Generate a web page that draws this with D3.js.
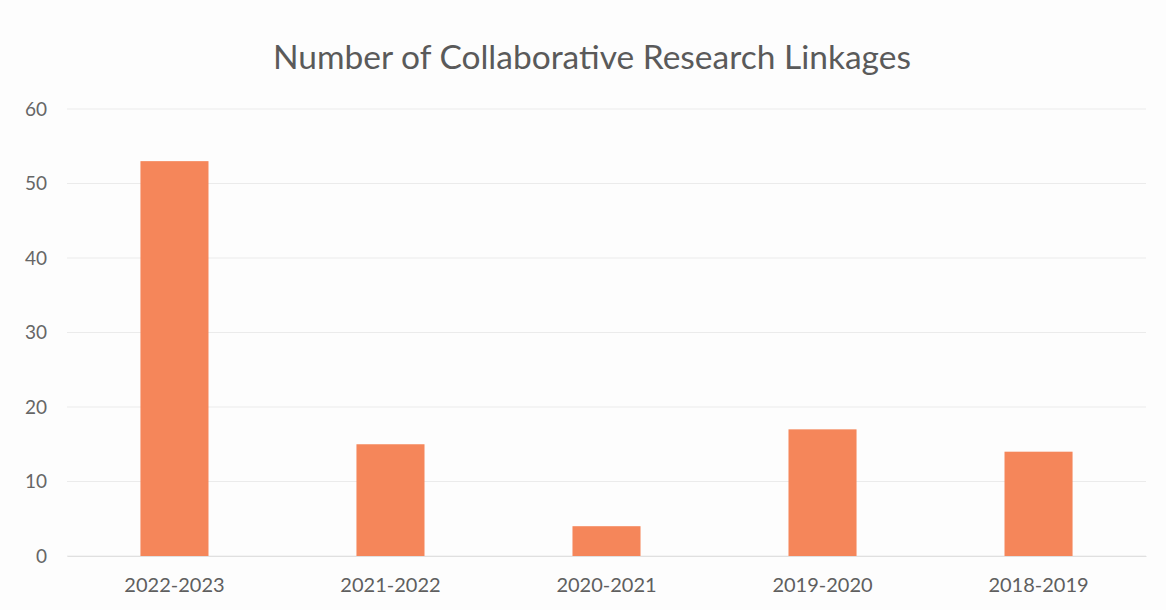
<!DOCTYPE html>
<html><head><meta charset="utf-8">
<script src="https://cdn.jsdelivr.net/npm/d3@7"></script>
<style>body{margin:0;background:#fdfdfd;}svg{display:block;}</style>
</head><body>
<svg id="chart" width="1166" height="610"></svg>
<script>
const categories = ["2022-2023","2021-2022","2020-2021","2019-2020","2018-2019"];
const values = [53, 15, 4, 17, 14];
const yTicks = [0, 10, 20, 30, 40, 50, 60];
const title = "Number of Collaborative Research Linkages";

const svg = d3.select("#chart");
const W = 1166, H = 610;
const m = {left: 67, right: 20, top: 109, bottom: 54};
const x = d3.scaleBand().domain(categories).range([m.left, W - m.right]).paddingInner(0.685).paddingOuter(0.34);
const y = d3.scaleLinear().domain([0, 60]).range([H - m.bottom, m.top]);
const font = "Lato, 'Open Sans', sans-serif";

svg.append("rect").attr("width", W).attr("height", H).attr("fill", "#fdfdfd");

// gridlines
svg.append("g").selectAll("line").data(yTicks).join("line")
  .attr("x1", m.left).attr("x2", W - m.right)
  .attr("y1", d => y(d)).attr("y2", d => y(d))
  .attr("stroke", "#ebebeb").attr("stroke-width", 1);

// y axis
const ya = svg.append("g").attr("transform", `translate(${m.left},0)`)
  .call(d3.axisLeft(y).tickValues(yTicks).tickSize(0).tickPadding(20));
ya.select(".domain").remove();
ya.selectAll("text").attr("font-family", font).attr("font-size", 19).attr("fill", "#666");

// bars
svg.append("g").selectAll("rect").data(values).join("rect")
  .attr("x", (d, i) => x(categories[i]))
  .attr("width", x.bandwidth())
  .attr("y", d => y(d))
  .attr("height", d => y(0) - y(d))
  .attr("fill", "#f5865a");

// x axis
const xa = svg.append("g").attr("transform", `translate(0,${H - m.bottom})`)
  .call(d3.axisBottom(x).tickSize(0).tickPadding(22));
xa.select(".domain").attr("stroke", "#e0e0e0");
xa.selectAll("text").attr("font-family", font).attr("font-size", 20).attr("fill", "#5f5f5f");

// title
svg.append("text").attr("x", 592).attr("y", 69).attr("text-anchor", "middle")
  .attr("font-family", font).attr("font-size", 33.5).attr("fill", "#5a5a5a").text(title);
</script>
</body></html>
